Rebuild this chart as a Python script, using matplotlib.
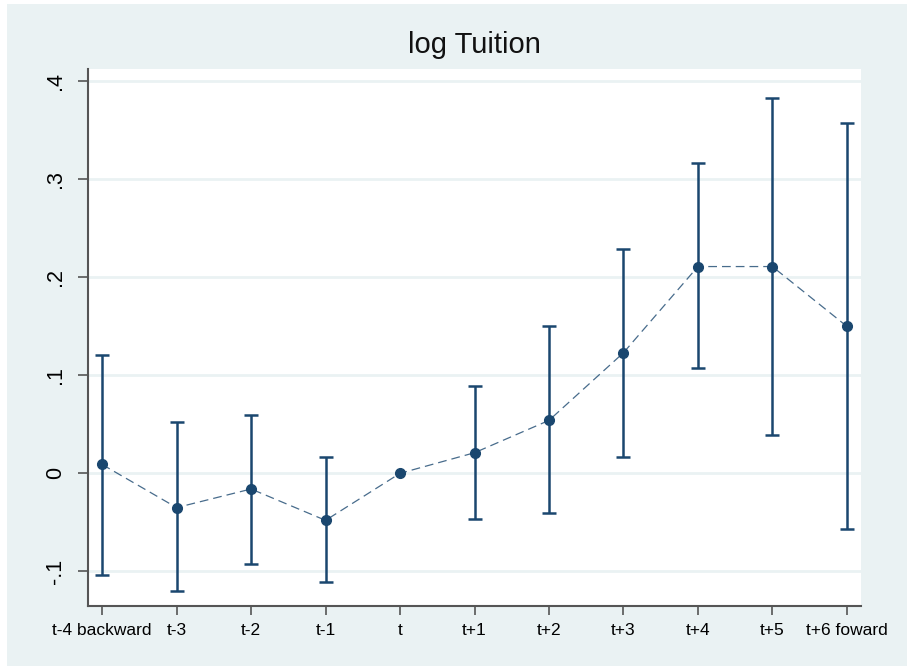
import numpy as np
import matplotlib.pyplot as plt
from matplotlib.patches import Rectangle

# Точечные оценки и доверительные интервалы
periods = ["t-4 backward", "t-3", "t-2", "t-1", "t", "t+1", "t+2",
           "t+3", "t+4", "t+5", "t+6 foward"]
coef = [0.009, -0.035, -0.016, -0.048, 0.0, 0.021, 0.054, 0.123, 0.211, 0.211, 0.150]
ci_low = [-0.104, -0.120, -0.093, -0.111, np.nan, -0.047, -0.041, 0.017, 0.107, 0.039, -0.057]
ci_high = [0.121, 0.052, 0.060, 0.017, np.nan, 0.089, 0.150, 0.229, 0.317, 0.383, 0.358]
y_ticks = [-0.1, 0.0, 0.1, 0.2, 0.3, 0.4]
y_tick_labels = ["-.1", "0", ".1", ".2", ".3", ".4"]

navy = "#1A476F"
bg = "#EAF2F3"

plt.rcParams['font.family'] = ['Liberation Sans', 'DejaVu Sans']

fig = plt.figure(figsize=(9.07, 6.66), dpi=100, facecolor="white")
# Фон области графика (как в Stata s2color), под осями
fig.patches.append(Rectangle((7 / 907, 0), 1, 1 - 4 / 666, transform=fig.transFigure,
                             facecolor=bg, edgecolor="none", zorder=-10))
ax = fig.add_axes([88 / 907, 1 - 605.7 / 666, (861 - 88) / 907, (605.7 - 69) / 666])
ax.set_facecolor("white")

x = np.arange(len(periods))
coef = np.array(coef)
lo = np.array(ci_low)
hi = np.array(ci_high)
has_ci = ~np.isnan(lo)

# Пунктирная линия, соединяющая оценки
ax.plot(x, coef, linestyle=(0, (7, 4)), color=navy, lw=0.9, alpha=0.8, zorder=2)
# Доверительные интервалы
ax.errorbar(x[has_ci], coef[has_ci],
            yerr=[coef[has_ci] - lo[has_ci], hi[has_ci] - coef[has_ci]],
            fmt="none", ecolor=navy, elinewidth=1.8, capsize=5, capthick=1.8, zorder=3)
ax.plot(x, coef, "o", color=navy, markersize=7, zorder=4)

ax.set_xlim(-0.19, 10.19)
ax.set_ylim(-0.1351, 0.4126)
ax.set_xticks(x)
ax.set_xticklabels(periods, fontsize=12.5)
ax.set_yticks(y_ticks)
ax.set_yticklabels(y_tick_labels, fontsize=15.5, rotation=90, va="center")
ax.tick_params(axis="x", length=6.5, width=1.2, color="#555555", pad=6)
ax.tick_params(axis="y", length=7.5, width=1.2, color="#555555", pad=8)

ax.yaxis.grid(True, color=bg, lw=2)
ax.set_axisbelow(True)
for side in ["top", "right"]:
    ax.spines[side].set_visible(False)
for side in ["left", "bottom"]:
    ax.spines[side].set_color("#555555")
    ax.spines[side].set_linewidth(1.5)

fig.text(474 / 907, 1 - 45 / 666, "log Tuition", fontsize=21, ha="center", va="center",
         color="#111111")

fig.savefig("out.png", dpi=100, facecolor=fig.get_facecolor())
